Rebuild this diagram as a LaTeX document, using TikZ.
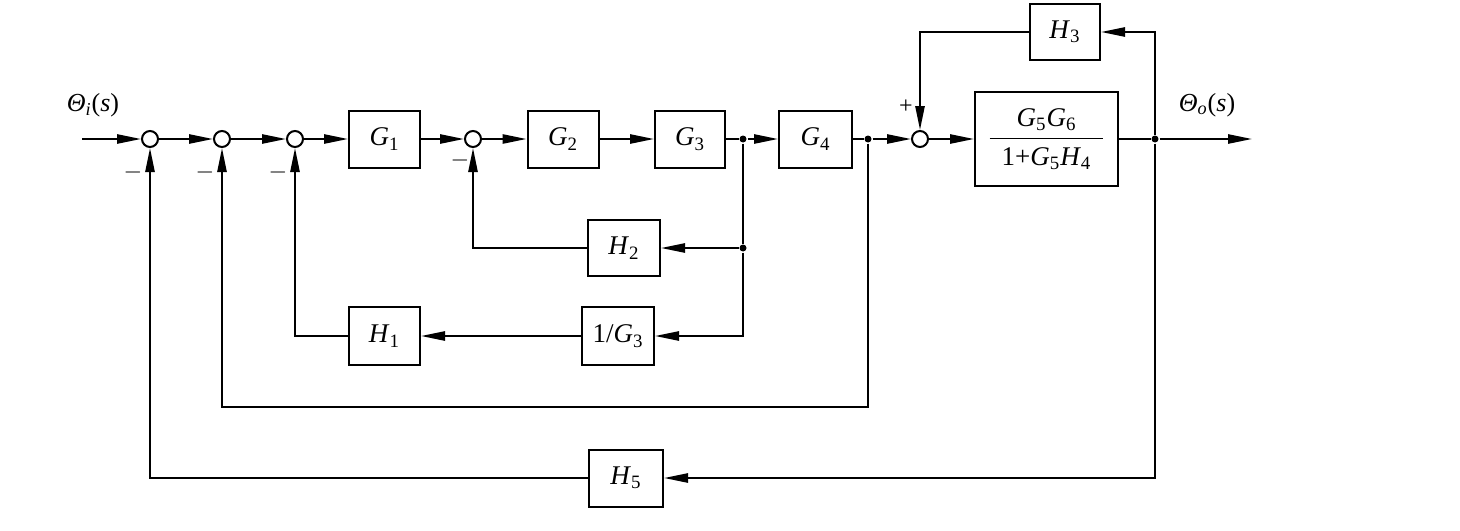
\documentclass[tikz,border=0pt]{standalone}
\usepackage{fontspec}
\setmainfont{Liberation Serif}
\usetikzlibrary{arrows.meta}
\newcommand{\sv}[2]{\textit{#1}\textsubscript{#2}}
\begin{document}
\begin{tikzpicture}[x=0.5pt,y=-0.5pt,
  line width=1pt,
  >={Triangle[length=12pt,width=4.6pt]},
  blk/.style={draw, line width=1pt, inner sep=0pt, minimum height=28.5pt, font=\fontsize{13.5}{15}\selectfont},
  sumj/.style={draw, circle, line width=1pt, minimum size=8pt, inner sep=0pt, fill=white},
  dotj/.style={circle, fill=black, minimum size=3.5pt, inner sep=0pt},
  lbl/.style={font=\fontsize{13}{15}\selectfont},
  sgn/.style={font=\fontsize{12}{14}\selectfont}]
\useasboundingbox (0,0) rectangle (1460,530);
% main path nodes
\coordinate (in) at (82,139);
\node[sumj] (s1) at (150,139) {};
\node[sumj] (s2) at (222,139) {};
\node[sumj] (s3) at (295,139) {};
\node[blk, minimum width=35.5pt] (g1) at (384.5,139) {\sv{G}{1}};
\node[sumj] (s4) at (473,139) {};
\node[blk, minimum width=35.5pt] (g2) at (563,139) {\sv{G}{2}};
\node[blk, minimum width=35pt] (g3) at (690,139) {\sv{G}{3}};
\node[dotj] (b1) at (743,139) {};
\node[blk, minimum width=36.5pt] (g4) at (815.5,139) {\sv{G}{4}};
\node[dotj] (b2) at (868,139) {};
\node[sumj] (s5) at (920,139) {};
\node[blk, minimum width=71.5pt, minimum height=47pt] (g56) at (1046.5,139)
  {$\displaystyle\frac{\hspace{6pt}\mbox{\sv{G}{5}\sv{G}{6}}\hspace{6pt}}{\hspace{6pt}\mbox{1+\sv{G}{5}\sv{H}{4}}\hspace{6pt}}$};
\node[dotj] (b3) at (1155,139) {};
\coordinate (out) at (1252,139);
% feedback blocks
\node[blk, minimum width=35pt, minimum height=28pt] (h3) at (1065,32) {\sv{H}{3}};
\node[blk, minimum width=36pt, minimum height=28pt] (h2) at (624,248) {\sv{H}{2}};
\node[dotj] (b4) at (743,248) {};
\node[blk, minimum width=36pt, minimum height=29pt] (ig3) at (618,336) {1/\sv{G}{3}};
\node[blk, minimum width=35.5pt, minimum height=29pt] (h1) at (384.5,336) {\sv{H}{1}};
\node[blk, minimum width=37pt, minimum height=28.5pt] (h5) at (626,478) {\sv{H}{5}};
% labels
\node[lbl] at (93,105) {\textit{Θ}\textsubscript{\textit{i}}(\textit{s})};
\node[lbl] at (1207,105) {\textit{Θ}\textsubscript{\textit{o}}(\textit{s})};
\node[sgn] at (133,172) {$-$};
\node[sgn] at (205,172) {$-$};
\node[sgn] at (278,172) {$-$};
\node[sgn] at (460,160) {$-$};
\node[sgn] at (906,107) {+};
% forward connectors
\draw[->] (in) -- (s1);
\draw[->] (s1) -- (s2);
\draw[->] (s2) -- (s3);
\draw[->] (s3) -- (g1);
\draw[->] (g1) -- (s4);
\draw[->] (s4) -- (g2);
\draw[->] (g2) -- (g3);
\draw (g3) -- (b1);
\draw[->] (b1) -- (g4);
\draw (g4) -- (b2);
\draw[->] (b2) -- (s5);
\draw[->] (s5) -- (g56);
\draw (g56) -- (b3);
\draw[->] (b3) -- (out);
% feedback connectors
\draw[->] (b3) |- (h3);
\draw[->] (h3) -| (s5);
\draw (b1) -- (b4);
\draw[->] (b4) -- (h2);
\draw[->] (h2) -| (s4);
\draw[->] (b4) |- (ig3);
\draw[->] (ig3) -- (h1);
\draw[->] (h1) -| (s3);
\coordinate (c2) at (868,407);
\draw[->] (b2) -- (c2) -| (s2);
\draw[->] (b3) |- (h5);
\draw[->] (h5) -| (s1);
\end{tikzpicture}
\end{document}
